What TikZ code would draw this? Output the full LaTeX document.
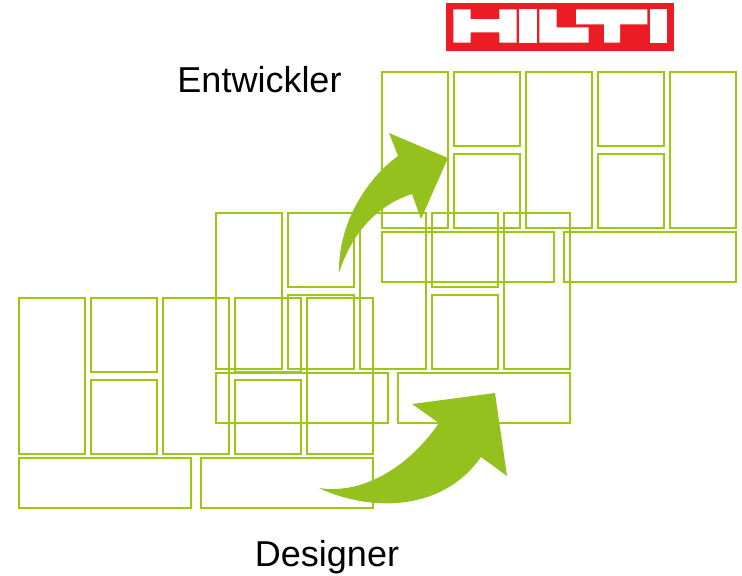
\documentclass[tikz,border=0pt]{standalone}
\usepackage{fontspec}
\setmainfont{Liberation Sans}
\usepackage{xcolor}
\definecolor{hiltired}{HTML}{ED1C24}
\definecolor{boxgreen}{HTML}{9CC814}
\definecolor{arrowgreen}{HTML}{95C11F}
\tikzset{
  gridbox/.style={draw=boxgreen, line width=1.1pt},
  bigarrow/.style={fill=arrowgreen, draw=none},
  logoletter/.style={fill=white, draw=none},
  caption/.style={font=\fontsize{27}{30}\selectfont, inner sep=0pt, anchor=base}
}
\begin{document}
\begin{tikzpicture}[x=0.75pt,y=-0.75pt]
\useasboundingbox (0,0) rectangle (742,575);

% Draw the three copies of the box layout
\foreach \dx/\dy in {19/298, 216/213, 382/72} {
  \begin{scope}[shift={(\dx,\dy)}]
    \draw[gridbox] (0,0) rectangle (66,156);
    \draw[gridbox] (72,0) rectangle (138,74);
    \draw[gridbox] (72,82) rectangle (138,156);
    \draw[gridbox] (144,0) rectangle (210,156);
    \draw[gridbox] (216,0) rectangle (282,74);
    \draw[gridbox] (216,82) rectangle (282,156);
    \draw[gridbox] (288,0) rectangle (354,156);
    \draw[gridbox] (0,160) rectangle (172,210);
    \draw[gridbox] (182,160) rectangle (354,210);
  \end{scope}
}

% Draw the two curved arrows
\fill[bigarrow] (339,273)
    .. controls (338,225) and (365,180) .. (398,156)
    -- (389,133) -- (448,158) -- (421,219) -- (412,194)
    .. controls (378,205) and (352,232) .. (339,273);
\fill[bigarrow] (319,488)
    .. controls (365,495) and (410,465) .. (439,423)
    -- (412,404) -- (495,393) -- (507,476) -- (481,457)
    .. controls (440,515) and (365,510) .. (319,488);

% Draw the logo
\fill[hiltired] (446,3) rectangle (674,51);
\fill[logoletter] (453.3,9.3) -- (470.7,9.3) -- (470.7,19) -- (499.3,19) -- (499.3,9.3)
    -- (516.7,9.3) -- (516.7,42.7) -- (499.3,42.7) -- (499.3,32.3) -- (470.7,32.3)
    -- (470.7,42.7) -- (453.3,42.7) -- cycle;
\fill[logoletter] (519.3,9.3) rectangle (536.7,42.7);
\fill[logoletter] (539.3,9.3) -- (556.7,9.3) -- (556.7,27.3) -- (588.7,27.3)
    -- (588.7,42.7) -- (539.3,42.7) -- cycle;
\fill[logoletter] (576,9.3) -- (647.3,9.3) -- (647.3,24.3) -- (620,24.3) -- (620,42.7)
    -- (604,42.7) -- (604,24.3) -- (576,24.3) -- cycle;
\fill[logoletter] (650,9.3) rectangle (666.7,42.7);

% Add the two labels
\node[caption] (dev) at (259.5,92) {Entwickler};
\node[caption] (des) at (327,566) {Designer};
\end{tikzpicture}
\end{document}
